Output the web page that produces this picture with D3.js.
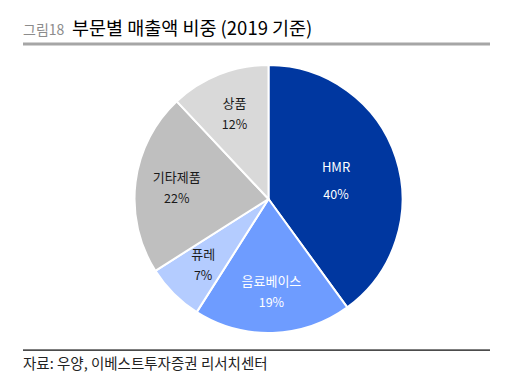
<!DOCTYPE html>
<html><head><meta charset="utf-8">
<script src="https://cdn.jsdelivr.net/npm/d3@7"></script>
<style>
body{margin:0;background:#fff;}
svg{display:block;font-family:"Noto Sans CJK KR","Noto Sans",sans-serif;}
</style></head>
<body><svg id="c" width="513" height="390"></svg>
<script>
const categories = ["HMR", "음료베이스", "퓨레", "기타제품", "상품"];
const values = [40, 19, 7, 22, 12];
const colors = ["#0037A0", "#6E9CFF", "#B4CCFF", "#BFBFBF", "#D9D9D9"];
const labelColors = ["#ffffff", "#ffffff", "#1a1a1a", "#1a1a1a", "#1a1a1a"];
const titlePrefix = "그림18";
const titleText = "부문별 매출액 비중 (2019 기준)";
const sourceText = "자료: 우양, 이베스트투자증권 리서치센터";

const svg = d3.select("#c");

// header
svg.append("text").attr("x", 23).attr("y", 35).attr("font-size", 14).attr("fill", "#8c8c8c").text(titlePrefix);
svg.append("text").attr("x", 72).attr("y", 35).attr("font-size", 18.5).attr("fill", "#000").attr("font-weight", 400).text(titleText);
svg.append("rect").attr("x", 23).attr("y", 42.5).attr("width", 467).attr("height", 3).attr("fill", "#a6a6a6");

// footer
svg.append("rect").attr("x", 23).attr("y", 349.5).attr("width", 467).attr("height", 1.2).attr("fill", "#000");
svg.append("text").attr("x", 23).attr("y", 369).attr("font-size", 14.5).attr("fill", "#222").text(sourceText);

// pie
const cx = 268.5, cy = 199, R = 134;
const data = categories.map((c, i) => ({name: c, value: values[i], color: colors[i], lc: labelColors[i]}));
const pie = d3.pie().value(d => d.value).sort(null);
const arcs = pie(data);
const arc = d3.arc().innerRadius(0).outerRadius(R);
const total = d3.sum(values);

const g = svg.append("g").attr("transform", `translate(${cx},${cy})`);
g.selectAll("path").data(arcs).join("path")
  .attr("d", arc)
  .attr("fill", d => d.data.color)
  .attr("stroke", "#fff")
  .attr("stroke-width", 2)
  .attr("stroke-linejoin", "round");

const lab = g.selectAll("g.lab").data(arcs).join("g").attr("class", "lab")
  .attr("transform", d => {
    const k = d.data.value / total > 0.3 ? 0.53 : 0.69;
    const a = d3.arc().innerRadius(R * k).outerRadius(R * k);
    const [x, y] = a.centroid(d);
    return `translate(${x},${y})`;
  });
lab.append("text").attr("text-anchor", "middle").attr("y", -5)
  .attr("font-size", 13).attr("fill", d => d.data.lc).text(d => d.data.name);
lab.append("text").attr("text-anchor", "middle").attr("y", d => d.data.value / total > 0.3 ? 22 : 16)
  .attr("font-size", 12.5).attr("fill", d => d.data.lc).text(d => Math.round(d.data.value / total * 100) + "%");
</script></body></html>
